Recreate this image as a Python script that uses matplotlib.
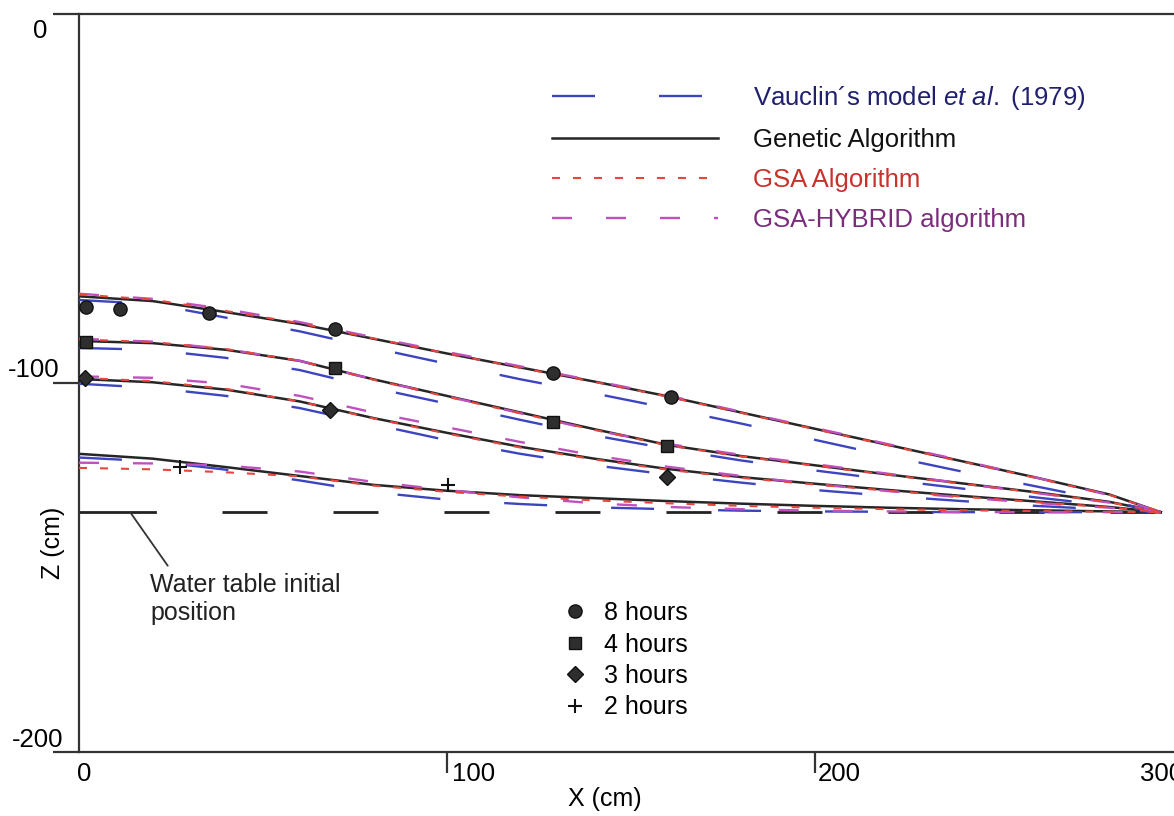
import matplotlib
matplotlib.use("Agg")
import matplotlib.pyplot as plt
from matplotlib.lines import Line2D

plt.rcParams["font.family"] = ["Liberation Sans", "DejaVu Sans"]
plt.rcParams["mathtext.fontset"] = "custom"
plt.rcParams["mathtext.it"] = "Liberation Sans:italic"
plt.rcParams["mathtext.rm"] = "Liberation Sans"
plt.rcParams["lines.scale_dashes"] = False

# abscisa comun de los perfiles (cm)
XS = [0, 20, 40, 60, 80, 100, 120, 140, 160, 180, 200, 220, 240, 260, 280, 294]

# Genetic Algorithm
GEN_8 = [-76.5, -77.8, -80.8, -84.0, -88.0, -92.0, -95.8, -99.6, -103.6, -108.0, -112.4, -116.8, -121.2, -125.6, -130.2, -135.0]
GEN_4 = [-88.6, -89.2, -91.0, -94.0, -99.0, -103.5, -108.0, -112.5, -116.8, -119.8, -122.3, -124.8, -127.2, -129.6, -132.2, -135.0]
GEN_3 = [-98.9, -99.8, -101.8, -105.0, -109.5, -113.5, -117.3, -120.5, -123.3, -125.5, -127.3, -129.0, -130.6, -132.1, -133.6, -135.0]
GEN_2 = [-119.2, -120.5, -122.8, -125.2, -127.6, -129.2, -130.4, -131.2, -132.0, -132.7, -133.3, -133.8, -134.2, -134.5, -134.8, -135.0]

# GSA Algorithm
GSA_8 = [-76.0, -77.4, -80.5, -83.8, -87.9, -92.0, -95.9, -99.7, -103.7, -108.1, -112.5, -116.9, -121.3, -125.7, -130.3, -135.0]
GSA_4 = [-88.2, -88.9, -90.8, -94.0, -99.1, -103.7, -108.2, -112.7, -116.9, -119.9, -122.4, -124.9, -127.3, -129.7, -132.3, -135.0]
GSA_3 = [-98.6, -99.5, -101.6, -105.0, -109.6, -113.7, -117.5, -120.7, -123.5, -125.7, -127.5, -129.2, -130.8, -132.3, -133.7, -135.0]
GSA_2 = [-123.0, -123.4, -124.2, -125.3, -127.8, -129.5, -130.8, -131.8, -132.6, -133.3, -133.8, -134.2, -134.5, -134.7, -134.9, -135.0]

# Vauclin et al. (1979)
VAU_8 = [-77.5, -78.6, -82.3, -86.0, -90.5, -94.8, -99.0, -102.8, -106.8, -111.0, -115.4, -119.8, -124.0, -128.0, -132.0, -135.0]
VAU_4 = [-90.5, -91.0, -93.2, -96.5, -101.3, -105.6, -110.0, -114.2, -117.8, -121.0, -123.7, -126.2, -128.6, -131.0, -133.2, -135.0]
VAU_3 = [-100.2, -101.3, -103.5, -106.8, -111.2, -115.5, -119.2, -122.3, -124.8, -127.0, -129.0, -130.6, -132.0, -133.3, -134.3, -135.0]
VAU_2 = [-120.2, -121.2, -123.5, -126.4, -129.6, -131.6, -132.8, -133.7, -134.2, -134.6, -134.8, -134.9, -135.0, -135.0, -135.0, -135.0]

# GSA-HYBRID
HYB_8 = [-75.8, -77.2, -80.0, -83.5, -87.6, -91.6, -95.5, -99.4, -103.4, -107.8, -112.2, -116.6, -121.0, -125.6, -130.4, -135.0]
HYB_4 = [-88.0, -88.8, -90.8, -94.0, -99.0, -103.6, -108.2, -112.8, -116.5, -119.5, -122.0, -124.6, -127.2, -129.8, -132.4, -135.0]
HYB_3 = [-98.2, -98.6, -100.2, -103.5, -108.0, -112.0, -116.0, -119.6, -122.7, -125.2, -127.4, -129.3, -131.0, -132.5, -133.8, -135.0]
HYB_2 = [-121.6, -121.8, -122.4, -124.0, -126.8, -129.0, -131.0, -132.6, -133.6, -134.2, -134.6, -134.8, -135.0, -135.0, -135.0, -135.0]

# puntos medidos
H8_X = [1.9, 11.1, 35.3, 69.6, 128.8, 160.9]
H8_Z = [-79.4, -79.9, -81.0, -85.4, -97.3, -103.8]
H4_X = [1.9, 69.6, 128.8, 159.8]
H4_Z = [-88.9, -95.9, -110.6, -117.1]
H3_X = [1.6, 68.2, 159.8]
H3_Z = [-98.6, -107.3, -125.5]
H2_X = [27.4, 100.3]
H2_Z = [-122.8, -127.6]

WT_Z = -135
WT_X = [0, 294]

Y_TICKS = [0, -100, -200]
X_TICKS = [0, 100, 200, 300]

C = {"vau": "#3c44c0", "gen": "#262626", "gsa": "#e8453c", "hyb": "#c050c0",
     "txt_vau": "#1f1f6e", "txt_gsa": "#c8322c", "txt_hyb": "#7b2d7b",
     "mk": "#2e2e2e"}

PX = 1 / 1.389  # px -> pt a 100 dpi
EST = {
    "vau": dict(color=C["vau"], lw=1.7, dashes=(43 * PX, 64 * PX)),
    "gen": dict(color=C["gen"], lw=1.8, ls="-"),
    "gsa": dict(color=C["gsa"], lw=1.5, dashes=(8 * PX, 13 * PX)),
    "hyb": dict(color=C["hyb"], lw=1.7, dashes=(20 * PX, 34 * PX)),
}

fig = plt.figure(figsize=(11.74, 8.16), dpi=100)
ax = fig.add_axes([79 / 1174, 64 / 816, 1 - 79 / 1174, 738 / 816])
ax.set_xlim(0, 297.6)
ax.set_ylim(-200, 0)

for ys in (GEN_8, GEN_4, GEN_3, GEN_2):
    ax.plot(XS, ys, **EST["gen"], zorder=2)
for ys in (VAU_8, VAU_4, VAU_3, VAU_2):
    ax.plot(XS, ys, **EST["vau"], zorder=3)
for ys in (HYB_8, HYB_4, HYB_3, HYB_2):
    ax.plot(XS, ys, **EST["hyb"], zorder=4)
for ys in (GSA_8, GSA_4, GSA_3, GSA_2):
    ax.plot(XS, ys, **EST["gsa"], zorder=5)

mk = dict(color=C["mk"], mec="#111111", ls="none", zorder=6)
ax.plot(H8_X, H8_Z, marker="o", ms=9.5, **mk)
ax.plot(H4_X, H4_Z, marker="s", ms=8.5, **mk)
ax.plot(H3_X, H3_Z, marker="D", ms=8.5, **mk)
ax.plot(H2_X, H2_Z, marker="+", ms=10, mew=1.5, **mk)

# nivel freatico inicial
ax.plot([WT_X[0], 20.7], [WT_Z, WT_Z], color="#222222", lw=2, zorder=1)
ax.plot([38.9, WT_X[1]], [WT_Z, WT_Z], color="#222222", lw=2,
        dashes=(45 * PX, 66 * PX), zorder=1)
ax.annotate("Water table initial\nposition", xy=(13.9, WT_Z),
            xytext=(19.3, -151.5), ha="left", va="top", fontsize=18,
            linespacing=1.2, color="#222222",
            arrowprops=dict(arrowstyle="-", color="#333333", lw=1.3,
                            relpos=(0.12, 1.0), shrinkA=4, shrinkB=0))

# ejes
for s in ("top", "bottom", "left"):
    ax.spines[s].set_linewidth(1.6)
    ax.spines[s].set_color("#333333")
ax.spines["right"].set_visible(False)

ax.set_yticks(Y_TICKS)
ax.set_yticklabels([])
ax.tick_params(axis="y", direction="out", length=19, width=1.6,
               color="#333333")
ytr = ax.get_yaxis_transform()
for v, xr, zb in zip(Y_TICKS, [-0.0292, -0.0174, -0.0146], [-6.5, -98.4, -198.6]):
    ax.text(xr, zb, str(v), transform=ytr, ha="right", va="baseline",
            fontsize=18.5, clip_on=False)

ax.set_xticks(X_TICKS[1:3])
ax.set_xticklabels([])
ax.tick_params(axis="x", direction="out", length=15, width=1.6,
               color="#333333")
xtr = ax.get_xaxis_transform()
for v, dx, ha in zip(X_TICKS, [-0.6, 1.3, 0.9, 0], ["left", "left", "left", "right"]):
    ax.text(v + dx, -0.014, str(v), transform=xtr, ha=ha, va="top",
            fontsize=18.5, clip_on=False)

ax.set_xlabel("X (cm)", fontsize=18)
ax.xaxis.set_label_coords((605 - 79) / 1095, -0.048)
ax.set_ylabel("Z (cm)", fontsize=18)
ax.yaxis.set_label_coords(-0.0128, 0.283)

# leyenda de modelos
h_mod = [Line2D([], [], **EST["vau"]), Line2D([], [], **EST["gen"]),
         Line2D([], [], **EST["gsa"]), Line2D([], [], **EST["hyb"])]
lab_mod = ["Vauclin\u00b4s model $et\\ al.$ (1979)", "Genetic Algorithm",
           "GSA Algorithm", "GSA-HYBRID algorithm"]
leg1 = ax.legend(h_mod, lab_mod, loc="upper left",
                 bbox_to_anchor=(552 / 1174, 1 - 84 / 816),
                 bbox_transform=fig.transFigure, frameon=False, fontsize=18.5,
                 handlelength=6.46, handletextpad=1.36, labelspacing=0.62,
                 borderpad=0, borderaxespad=0,
                 labelcolor=[C["txt_vau"], "#111111", C["txt_gsa"], C["txt_hyb"]])
ax.add_artist(leg1)

# leyenda de tiempos
h_t = [Line2D([], [], marker="o", ms=9.5, **mk),
       Line2D([], [], marker="s", ms=8.5, **mk),
       Line2D([], [], marker="D", ms=8.5, **mk),
       Line2D([], [], marker="+", ms=10, mew=1.5, **mk)]
ax.legend(h_t, ["8 hours", "4 hours", "3 hours", "2 hours"], loc="upper left",
          bbox_to_anchor=(563 / 1174, 1 - 601 / 816),
          bbox_transform=fig.transFigure, frameon=False, fontsize=18,
          handlelength=0.94, handletextpad=0.72, labelspacing=0.3,
          borderpad=0, borderaxespad=0, numpoints=1)

fig.savefig("out.png", dpi=100)
